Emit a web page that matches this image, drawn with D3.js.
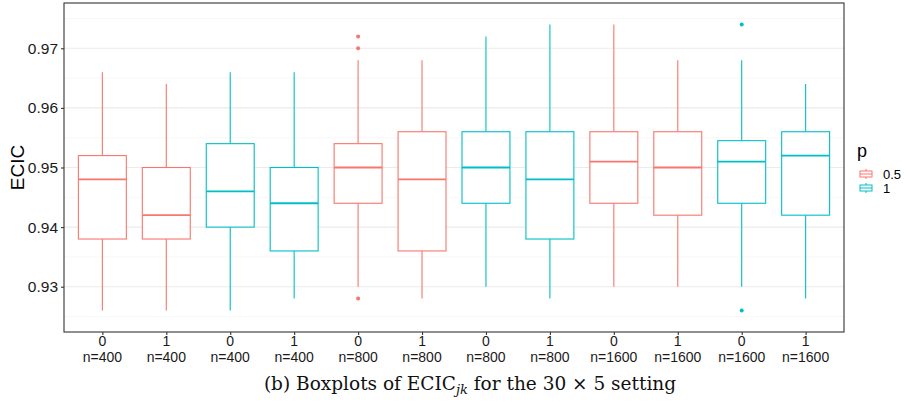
<!DOCTYPE html>
<html>
<head>
<meta charset="utf-8">
<script src="https://cdn.jsdelivr.net/npm/d3@7"></script>
<style>
  body { margin: 0; background: #fff; }
  svg { display: block; }
</style>
</head>
<body>
<div id="chart"></div>
<script>
// chart data
const kLabels = ["0", "1", "0", "1", "0", "1", "0", "1", "0", "1", "0", "1"];
const nLabels = ["n=400", "n=400", "n=400", "n=400", "n=800", "n=800",
  "n=800", "n=800", "n=1600", "n=1600", "n=1600", "n=1600"];
const pGroup = ["0.5", "0.5", "1", "1", "0.5", "0.5", "1", "1", "0.5", "0.5", "1", "1"];
const whiskerLow = [0.926, 0.926, 0.926, 0.928, 0.930, 0.928, 0.930, 0.928, 0.930, 0.930, 0.930, 0.928];
const q1 = [0.938, 0.938, 0.940, 0.936, 0.944, 0.936, 0.944, 0.938, 0.944, 0.942, 0.944, 0.942];
const median = [0.948, 0.942, 0.946, 0.944, 0.950, 0.948, 0.950, 0.948, 0.951, 0.950, 0.951, 0.952];
const q3 = [0.952, 0.950, 0.954, 0.950, 0.954, 0.956, 0.956, 0.956, 0.956, 0.956, 0.9545, 0.956];
const whiskerHigh = [0.966, 0.964, 0.966, 0.966, 0.968, 0.968, 0.972, 0.974, 0.974, 0.968, 0.968, 0.964];
const outliers = [
  { box: 4, value: 0.972 }, { box: 4, value: 0.970 }, { box: 4, value: 0.928 },
  { box: 10, value: 0.974 }, { box: 10, value: 0.926 },
];
const yTicks = [0.93, 0.94, 0.95, 0.96, 0.97];
const yMinor = [0.925, 0.935, 0.945, 0.955, 0.965, 0.975];
const pLevels = ["0.5", "1"];

const width = 907;
const height = 408;
const panel = { left: 64, right: 844, top: 3, bottom: 332 };

const color = d3.scaleOrdinal().domain(pLevels).range(["#F8766D", "#00BFC4"]);

const boxes = kLabels.map((k, i) => ({
  i: i,
  key: i,
  p: pGroup[i],
  lo: whiskerLow[i], q1: q1[i], med: median[i], q3: q3[i], hi: whiskerHigh[i],
}));

const x = d3.scalePoint()
  .domain(d3.range(kLabels.length))
  .range([panel.left, panel.right])
  .padding(0.6);
const boxW = x.step() * 0.75;

const y = d3.scaleLinear()
  .domain([0.9224, 0.9776])
  .range([panel.bottom, panel.top]);

const svg = d3.select("#chart").append("svg")
  .attr("width", width)
  .attr("height", height)
  .style("font-family", "'Liberation Sans', Arial, sans-serif");

// grid
svg.append("g").selectAll("line").data(yMinor).join("line")
  .attr("x1", panel.left).attr("x2", panel.right)
  .attr("y1", (d) => y(d)).attr("y2", (d) => y(d))
  .attr("stroke", "#f2f2f2").attr("stroke-width", 0.6);
svg.append("g").selectAll("line").data(yTicks).join("line")
  .attr("x1", panel.left).attr("x2", panel.right)
  .attr("y1", (d) => y(d)).attr("y2", (d) => y(d))
  .attr("stroke", "#ebebeb").attr("stroke-width", 1.1);

// boxes
const g = svg.append("g").selectAll("g").data(boxes).join("g")
  .attr("stroke", (d) => color(d.p))
  .attr("fill", "none")
  .attr("stroke-width", 1.1);

g.append("line")
  .attr("x1", (d) => x(d.key)).attr("x2", (d) => x(d.key))
  .attr("y1", (d) => y(d.hi)).attr("y2", (d) => y(d.q3));
g.append("line")
  .attr("x1", (d) => x(d.key)).attr("x2", (d) => x(d.key))
  .attr("y1", (d) => y(d.q1)).attr("y2", (d) => y(d.lo));
g.append("rect")
  .attr("x", (d) => x(d.key) - boxW / 2)
  .attr("width", boxW)
  .attr("y", (d) => y(d.q3))
  .attr("height", (d) => y(d.q1) - y(d.q3))
  .attr("fill", "#fff");
g.append("line")
  .attr("x1", (d) => x(d.key) - boxW / 2).attr("x2", (d) => x(d.key) + boxW / 2)
  .attr("y1", (d) => y(d.med)).attr("y2", (d) => y(d.med))
  .attr("stroke-width", 1.8);

svg.append("g").selectAll("circle").data(outliers).join("circle")
  .attr("cx", (d) => x(d.box))
  .attr("cy", (d) => y(d.value))
  .attr("r", 2)
  .attr("fill", (d) => color(pGroup[d.box]));

// panel border
svg.append("rect")
  .attr("x", panel.left).attr("y", panel.top)
  .attr("width", panel.right - panel.left)
  .attr("height", panel.bottom - panel.top)
  .attr("fill", "none").attr("stroke", "#333").attr("stroke-width", 1.1);

// y axis
const yAxis = svg.append("g")
  .attr("transform", `translate(${panel.left},0)`)
  .call(d3.axisLeft(y).tickValues(yTicks).tickSize(3).tickPadding(3).tickFormat(d3.format(".2f")));
yAxis.select(".domain").remove();
yAxis.selectAll("line").attr("stroke", "#333").attr("stroke-width", 1.1);
yAxis.selectAll("text").attr("fill", "#1a1a1a").style("font-size", "15.5px")
  .style("font-family", "'Liberation Sans', Arial, sans-serif");

// x axis
const xAxis = svg.append("g")
  .attr("transform", `translate(0,${panel.bottom})`)
  .call(d3.axisBottom(x).tickSize(3).tickFormat(() => ""));
xAxis.select(".domain").remove();
xAxis.selectAll("line").attr("stroke", "#333").attr("stroke-width", 1.1);

const xl = svg.append("g").selectAll("text").data(boxes).join("text")
  .attr("x", (d) => x(d.key))
  .attr("text-anchor", "middle")
  .attr("fill", "#1a1a1a")
  .style("font-size", "14px");
xl.append("tspan").attr("x", (d) => x(d.key)).attr("y", 346).text((d) => kLabels[d.i]);
xl.append("tspan").attr("x", (d) => x(d.key)).attr("y", 362).text((d) => nLabels[d.i]);

// y title
svg.append("text")
  .attr("transform", `translate(24,${(panel.top + panel.bottom) / 2}) rotate(-90)`)
  .attr("text-anchor", "middle")
  .style("font-size", "19px")
  .text("ECIC");

// legend
const leg = svg.append("g");
leg.append("text").attr("x", 857).attr("y", 157).style("font-size", "18px").text("p");
const item = leg.selectAll("g").data(pLevels).join("g")
  .attr("transform", (d, i) => `translate(860,${174 + i * 14})`);
item.append("line").attr("x1", 6).attr("x2", 6).attr("y1", -5).attr("y2", 5)
  .attr("stroke", (d) => color(d)).attr("stroke-width", 1);
item.append("rect").attr("x", 0).attr("y", -3).attr("width", 12).attr("height", 6)
  .attr("fill", "#fff").attr("stroke", (d) => color(d)).attr("stroke-width", 1);
item.append("line").attr("x1", 0).attr("x2", 12).attr("y1", 0).attr("y2", 0)
  .attr("stroke", (d) => color(d)).attr("stroke-width", 1);
item.append("text").attr("x", 23).attr("y", 4.5).style("font-size", "13px").text((d) => d);

// caption
const cap = svg.append("text")
  .attr("x", 470).attr("y", 390)
  .attr("text-anchor", "middle")
  .style("font-family", "'DejaVu Serif', 'Liberation Serif', serif")
  .style("font-size", "18.5px")
  .attr("fill", "#111");
cap.append("tspan").text("(b) Boxplots of ECIC");
cap.append("tspan").attr("dy", 4).style("font-size", "13px").style("font-style", "italic").text("jk");
cap.append("tspan").attr("dy", -4).text(" for the 30 \u00d7 5 setting");
</script>
</body>
</html>
